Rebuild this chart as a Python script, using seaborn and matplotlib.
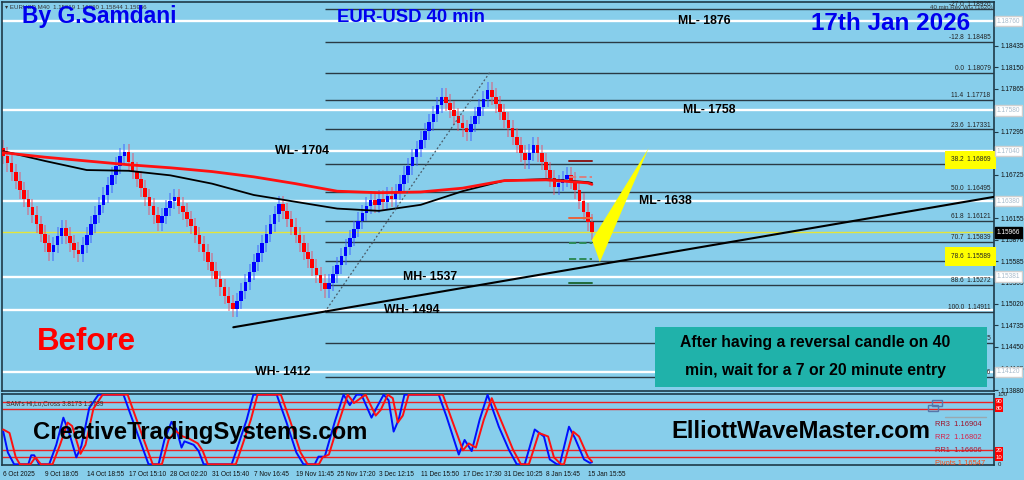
import matplotlib
matplotlib.use("Agg")
import matplotlib.pyplot as plt
import matplotlib.transforms as mtrans
from matplotlib.patches import Rectangle, Polygon
import numpy as np
import pandas as pd
import seaborn as sns

# ---------------- data ----------------
first_open = 1.1708
closes = [1.1698, 1.1688, 1.1676, 1.1665, 1.1652, 1.1641, 1.1630, 1.1620, 1.1607, 1.1595,
          1.1582, 1.1570, 1.1580, 1.1592, 1.1602, 1.1592, 1.1582, 1.1573, 1.1568, 1.1580,
          1.1593, 1.1607, 1.1620, 1.1633, 1.1646, 1.1659, 1.1672, 1.1685, 1.1697, 1.1703,
          1.1690, 1.1678, 1.1667, 1.1655, 1.1643, 1.1631, 1.1619, 1.1609, 1.1618, 1.1629,
          1.1638, 1.1643, 1.1632, 1.1624, 1.1614, 1.1605, 1.1593, 1.1581, 1.1570, 1.1558,
          1.1546, 1.1535, 1.1524, 1.1513, 1.1503, 1.1495, 1.1506, 1.1519, 1.1531, 1.1544,
          1.1557, 1.1569, 1.1582, 1.1595, 1.1608, 1.1621, 1.1634, 1.1625, 1.1614, 1.1604,
          1.1593, 1.1582, 1.1571, 1.1561, 1.1550, 1.1540, 1.1530, 1.1521, 1.1530, 1.1541,
          1.1553, 1.1565, 1.1577, 1.1589, 1.1601, 1.1612, 1.1622, 1.1632, 1.1640, 1.1633,
          1.1641, 1.1637, 1.1645, 1.1641, 1.1650, 1.1661, 1.1673, 1.1684, 1.1696, 1.1707,
          1.1719, 1.1730, 1.1742, 1.1753, 1.1765, 1.1776, 1.1768, 1.1759, 1.1750, 1.1741,
          1.1734, 1.1729, 1.1740, 1.1751, 1.1762, 1.1773, 1.1785, 1.1776, 1.1766, 1.1756,
          1.1745, 1.1734, 1.1723, 1.1712, 1.1701, 1.1692, 1.1702, 1.1712, 1.1701, 1.1690,
          1.1679, 1.1668, 1.1657, 1.1662, 1.1667, 1.1672, 1.1665, 1.1652, 1.1638, 1.1624,
          1.1610, 1.1597]

date_bars = [0, 10, 20, 30, 40, 50, 60, 70, 80, 90, 100, 110, 120, 130, 140]
date_labels = ["6 Oct 2025", "9 Oct 18:05", "14 Oct 18:55", "17 Oct 15:10", "28 Oct 02:20",
               "31 Oct 15:40", "7 Nov 16:45", "19 Nov 11:45", "25 Nov 17:20", "3 Dec 12:15",
               "11 Dec 15:50", "17 Dec 17:30", "31 Dec 10:25", "8 Jan 15:45", "15 Jan 15:55"]

ma_bars = [0, 10, 20, 30, 40, 50, 60, 70, 80, 90, 100, 110, 120, 130, 140, 141]
ma_red = [1.1702, 1.1696, 1.1691, 1.1686, 1.1682, 1.1677, 1.1670, 1.1661, 1.1651, 1.1649,
          1.1650, 1.1655, 1.1665, 1.1666, 1.1662, 1.1660]
ma_black = [1.1704, 1.1691, 1.1679, 1.1678, 1.1672, 1.1661, 1.1646, 1.1637, 1.1628, 1.1625,
            1.1633, 1.1651, 1.1665, 1.1667, 1.1663, 1.1662]

fib_pct = ["-27.0", "-12.8", "0.0", "11.4", "23.6", "38.2", "50.0", "61.8", "70.7", "78.6",
           "88.6", "100.0", "112.8", "127.0"]
fib_price = [1.18926, 1.18485, 1.18079, 1.17718, 1.17331, 1.16869, 1.16495, 1.16121, 1.15839,
             1.15589, 1.15272, 1.14911, 1.14505, 1.14056]
fib_start_bar = 77
fib_swing_bars = [77, 116.5]
fib_swing_prices = [1.14911, 1.18079]

level_names = ["ML- 1876", "ML- 1758", "WL- 1704", "ML- 1638", "MH- 1537", "WH- 1494", "WH- 1412"]
level_prices = [1.18760, 1.17580, 1.17040, 1.16380, 1.15381, 1.14941, 1.14120]
level_boxed = [True, True, True, True, True, False, True]

current_price = 1.15966
price_ticks = [1.18435, 1.18150, 1.17865, 1.17295, 1.16725, 1.16155, 1.15870, 1.15585,
               1.15305, 1.15020, 1.14735, 1.14450, 1.14165, 1.13880]

trend_bars = [55.1, 237.8]
trend_prices = [1.1471, 1.1644]

wedge_bars = [141.0, 154.6, 142.9]
wedge_prices = [1.15865, 1.17082, 1.15573]

marker_prices = [1.16906, 1.16696, 1.16155, 1.15825, 1.15613, 1.15295]
marker_colors = ["#8b1a1a", "#d98080", "#e8643c", "#2e8b57", "#2e8b57", "#1f6b3a"]
marker_styles = ["-", "--", "-", "--", "--", "-"]
marker_bars = [135.5, 141.0]

osc_levels = [90, 80, 20, 10]
blue_x = [0, 1.1, 2.6, 6.0, 6.7, 7.4, 8.6, 11.0, 12.7, 14.4, 15.8, 17.5, 18.7, 20.6, 22.8, 28.8,
          30.7, 34.8, 37.2, 38.6, 40.3, 41.5, 42.7, 43.4, 45.6, 46.8, 48.0, 54.7, 56.3, 58.3,
          59.9, 65.5, 67.8, 70.2, 71.9, 74.6, 75.5, 77.0, 79.4, 81.5, 83.0, 84.6, 85.8, 88.2,
          89.4, 91.1, 92.3, 93.5, 94.7, 96.1, 104.3, 106.2, 109.1, 110.5, 112.2, 114.1, 116.0,
          118.7, 121.1, 123.0, 124.9, 127.3, 129.5, 130.9, 132.6, 133.3, 135.5, 136.9, 139.1,
          140.5, 141.0]
blue_y = [47, 17, 0, 0, 13, 13, 0, 0, 28, 67, 45, 10, 26, 81, 100, 100, 68, 0, 0, 35, 61, 50, 24,
          33, 28, 19, 0, 0, 28, 64, 100, 100, 61, 17, 0, 0, 11, 11, 61, 100, 85, 100, 100, 67,
          81, 100, 92, 47, 64, 100, 100, 68, 14, 35, 19, 64, 100, 54, 21, 0, 0, 50, 40, 7, 0, 0,
          54, 38, 7, 2, 3]
red_x = [0, 1.5, 3.0, 4.0, 6.5, 7.7, 9.0, 11.8, 13.6, 15.4, 16.5, 18.5, 19.7, 21.6, 23.8, 29.8,
         31.7, 35.8, 38.0, 39.6, 41.3, 43.0, 44.5, 46.6, 47.8, 49.0, 55.7, 57.3, 59.3, 60.9,
         66.5, 68.8, 71.2, 72.9, 75.6, 76.5, 78.0, 80.4, 82.5, 84.0, 85.6, 86.8, 89.2, 90.4,
         92.1, 93.3, 94.5, 95.7, 97.1, 105.3, 107.2, 110.1, 111.5, 113.2, 115.1, 117.0, 119.7,
         122.1, 124.0, 125.9, 128.3, 130.5, 131.9, 133.6, 134.3, 136.5, 137.9, 140.1, 141.0]
red_y = [50, 45, 10, 0, 0, 10, 0, 0, 28, 60, 55, 15, 28, 80, 100, 100, 68, 0, 0, 35, 48, 40, 37,
         30, 19, 0, 0, 28, 64, 100, 100, 61, 17, 0, 0, 10, 14, 61, 100, 88, 95, 100, 70, 78, 100,
         95, 60, 70, 100, 100, 68, 20, 30, 24, 64, 95, 56, 21, 0, 0, 45, 40, 10, 0, 0, 47, 40,
         10, 4]

pivot_names = ["RR3  1.16904", "RR2  1.16802", "RR1  1.16606", "Pivots 1.16547"]
pivot_colors = ["#a01028", "#d8204a", "#b01830", "#ff4a10"]

# ---------------- style ----------------
sns.set_style("white")
plt.rcParams['font.family'] = ['Liberation Sans', 'DejaVu Sans']
SKY = '#87CEEB'
FRAME = '#1e3a48'
WICK = 0.0011
SMALL = 4.7

fig = plt.figure(figsize=(10.24, 4.8), dpi=100, facecolor=SKY)
ax = fig.add_axes([2 / 1024, 89 / 480, 992 / 1024, 389 / 480], facecolor=SKY)
ax2 = fig.add_axes([2 / 1024, 15 / 480, 992 / 1024, 71 / 480], facecolor=SKY)
XMIN, XMAX = -0.3, 237.3
YMIN, YMAX = 1.13867, 1.19013

for a in (ax, ax2):
    for s in a.spines.values():
        s.set_color(FRAME)
        s.set_linewidth(1.2)
    a.set_xlim(XMIN, XMAX)

# ---------------- main panel ----------------
ax.set_ylim(YMIN, YMAX)
for p in level_prices:
    ax.axhline(p, color='white', lw=1.7, zorder=1)
ax.hlines(fib_price, fib_start_bar, XMAX, color='#2a3a44', lw=1.0, zorder=1.2)
ax.axhline(current_price, color='#e4e43a', lw=1.0, zorder=1.1)

n = len(closes)
bars = np.arange(n)
cl = np.array(closes)
op = np.r_[first_open, cl[:-1]]
upb = cl >= op
body_col = np.where(upb, '#0000ff', '#ff0000')
wick_col = np.where(upb, '#3a5cff', '#e8506a')
hi = np.maximum(op, cl) + WICK
lo = np.minimum(op, cl) - WICK
ax.vlines(bars, lo, hi, colors=wick_col, lw=1.1, alpha=0.6, zorder=2)
ax.bar(bars, cl - op, bottom=op, width=0.85, color=body_col, edgecolor='none', zorder=3)

ma_df = pd.DataFrame({'bar': ma_bars, 'red': ma_red, 'black': ma_black})
sns.lineplot(data=ma_df, x='bar', y='black', color='black', lw=1.3, ax=ax, zorder=4, sort=False)
sns.lineplot(data=ma_df, x='bar', y='red', color='#ff1010', lw=2.0, ax=ax, zorder=4, sort=False)

ax.plot(trend_bars, trend_prices, color='black', lw=1.5, zorder=5)
ax.plot(fib_swing_bars, fib_swing_prices, color='#4a5a66', lw=0.9, ls=(0, (1.5, 1.8)), zorder=4)
ax.add_patch(Polygon(list(zip(wedge_bars, wedge_prices)), closed=True, fc='#ffff00', ec='none', zorder=6))
for p, c, ls in zip(marker_prices, marker_colors, marker_styles):
    ax.plot(marker_bars, [p, p], color=c, lw=1.4, ls=ls, zorder=5)

blend = mtrans.blended_transform_factory(ax.transAxes, ax.transData)
# fib labels
for pct, p in zip(fib_pct, fib_price):
    hl = pct in ("38.2", "78.6")
    ax.text(0.9965, p + 0.00008, f"{pct}  {p:.5f}", transform=blend,
            ha='right', va='bottom', fontsize=SMALL, color='#222222', zorder=7,
            bbox=dict(fc='#ffff00', ec='none', pad=4.2) if hl else None)

# level labels on the chart
level_label_bars = [161.6, 162.8, 65.2, 152.2, 95.7, 91.3, 60.4]
for name, p, xb in zip(level_names, level_prices, level_label_bars):
    ax.text(xb, p, name, ha='left', va='center', fontsize=8.8, fontweight='bold', color='black', zorder=8)

# right axis
ax.set_xticks([])
ax.yaxis.tick_right()
ax.set_yticks(price_ticks)
ax.set_yticklabels([f"{t:.5f}" for t in price_ticks])
ax.tick_params(axis='y', length=3, width=0.8, color=FRAME, labelsize=SMALL, labelcolor='#111111', pad=2)
for p, boxed in zip(level_prices, level_boxed):
    if boxed:
        ax.text(1.0025, p, f"{p:.5f}", transform=blend, ha='left', va='center', fontsize=SMALL,
                color='#a8bccc', clip_on=False, zorder=9, bbox=dict(fc='white', ec='#d0d0d0', pad=1.2))
ax.text(1.0025, current_price, f"{current_price:.5f}", transform=blend, ha='left', va='center',
        fontsize=SMALL, color='white', clip_on=False, zorder=9, bbox=dict(fc='black', ec='black', pad=1.2))

# ---------------- oscillator ----------------
ax2.set_ylim(-1, 101)
ax2.hlines(osc_levels, XMIN, XMAX, color='#ee2020', lw=1.0, zorder=1)
sns.lineplot(x=blue_x, y=blue_y, color='#0010ff', lw=1.4, ax=ax2, sort=False, zorder=3)
sns.lineplot(x=red_x, y=red_y, color='#ff1010', lw=1.4, ax=ax2, sort=False, zorder=3)
ax2.set_xticks(date_bars)
ax2.set_xticklabels(date_labels, ha='left')
ax2.tick_params(axis='x', length=3, width=0.8, color=FRAME, labelsize=SMALL, labelcolor='#111111', pad=1.5)
ax2.set_yticks([])
ax2.set_xlabel('')
ax2.set_ylabel('')
ax.set_xlabel('')
ax.set_ylabel('')
blend2 = mtrans.blended_transform_factory(ax2.transAxes, ax2.transData)
for v in osc_levels:
    ax2.text(1.0015, v, str(v), transform=blend2, ha='left', va='center', fontsize=4.3, color='white',
             clip_on=False, bbox=dict(fc='#ff0000', ec='none', pad=0.5))
ax2.text(1.0035, 100, "100", transform=blend2, ha='left', va='center', fontsize=4.3, color='#222', clip_on=False)
ax2.text(1.0035, 0, "0", transform=blend2, ha='left', va='center', fontsize=4.3, color='#222', clip_on=False)
ax2.text(0.004, 88, "SAM's Hi,Lo,Cross 3.8173 1.2739", transform=blend2, ha='left', va='center',
         fontsize=SMALL, color='#333333')

for i, (t, c) in enumerate(zip(pivot_names, pivot_colors)):
    fig.text(935 / 1024, 1 - (425 + i * 12.7) / 480, t, ha='left', va='center', fontsize=5.4, color=c)
fig.add_artist(Rectangle((928 / 1024, 1 - 411 / 480), 10 / 1024, 6 / 480, fill=False, ec='#5577aa', lw=1))
fig.add_artist(Rectangle((932 / 1024, 1 - 406 / 480), 10 / 1024, 6 / 480, fill=False, ec='#5577aa', lw=1))
fig.add_artist(plt.Line2D([945 / 1024, 986 / 1024], [1 - 417 / 480, 1 - 417 / 480], color='#9aa8b0', lw=1))

# ---------------- headline texts ----------------
fig.text(5 / 1024, 1 - 7 / 480, "▾ EURUSD,M40  1.15919 1.16060 1.15844 1.15966", ha='left', va='center',
         fontsize=4.4, color='#333333', family=['Liberation Sans', 'DejaVu Sans'])
fig.text(930 / 1024, 1 - 8 / 480, "40 min Rev WG (1620)", ha='left', va='center', fontsize=4.4, color='#333333')
fig.text(22 / 1024, 1 - 16 / 480, "By G.Samdani", ha='left', va='center', fontsize=16.5, fontweight='bold', color='#0000ee')
fig.text(337 / 1024, 1 - 18 / 480, "EUR-USD 40 min", ha='left', va='center', fontsize=13.3, fontweight='bold', color='#0000ee')
fig.text(811 / 1024, 1 - 24 / 480, "17th Jan 2026", ha='left', va='center', fontsize=17.5, fontweight='bold', color='#0000ee')
fig.text(37 / 1024, 1 - 342 / 480, "Before", ha='left', va='center', fontsize=22.5, fontweight='bold', color='#ff0000')
fig.text(33 / 1024, 1 - 432 / 480, "CreativeTradingSystems.com", ha='left', va='center', fontsize=17.2, fontweight='bold', color='black')
fig.text(671 / 1024, 1 - 432 / 480, "ElliottWaveMaster.com", ha='left', va='center', fontsize=17.2, fontweight='bold', color='black')

fig.add_artist(Rectangle((655 / 1024, 1 - 387 / 480), 332 / 1024, 60 / 480, fc='#20B2AA', ec='none', zorder=10))
fig.text(815 / 1024, 1 - 342 / 480, "After having a reversal candle on 40", ha='center', va='center',
         fontsize=11.3, fontweight='bold', color='black', zorder=11)
fig.text(815 / 1024, 1 - 371 / 480, "min, wait for a 7 or 20 minute entry", ha='center', va='center',
         fontsize=11.3, fontweight='bold', color='black', zorder=11)

fig.savefig("out.png", dpi=100, facecolor=SKY)
